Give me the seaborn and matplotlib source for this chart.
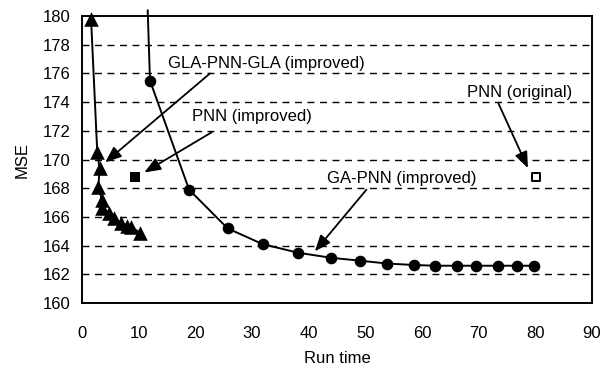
import matplotlib
matplotlib.use("Agg")
import matplotlib.pyplot as plt
import seaborn as sns
import pandas as pd

# GA-PNN (improved): first point is the line entering from above the plot
ga_x = [11.6, 12.0, 18.9, 25.7, 31.9, 38.2, 44.0, 49.1, 53.9, 58.6, 62.3, 66.1, 69.6, 73.5, 76.8, 79.8]
ga_y = [180.4, 175.5, 167.9, 165.2, 164.1, 163.5, 163.15, 162.95, 162.75, 162.65, 162.6, 162.6, 162.6, 162.6, 162.6, 162.6]

# GLA-PNN-GLA (improved)
gla_x = [1.6, 2.7, 3.1, 2.9, 3.5, 3.6, 4.8, 5.7, 6.9, 7.9, 8.7, 10.2]
gla_y = [179.8, 170.5, 169.4, 168.1, 167.2, 166.6, 166.3, 165.9, 165.6, 165.4, 165.3, 164.9]

# PNN points
pnn_imp_x = [9.4]
pnn_imp_y = [168.8]
pnn_orig_x = [80.1]
pnn_orig_y = [168.8]

yticks = [160, 162, 164, 166, 168, 170, 172, 174, 176, 178, 180]
xticks = [0, 10, 20, 30, 40, 50, 60, 70, 80, 90]

sns.set_theme(style="white")
plt.rcParams['font.family'] = ['Liberation Sans', 'DejaVu Sans']

fig = plt.figure(figsize=(6.05, 3.70), dpi=100)
ax = fig.add_axes([0.1355, 0.181, 0.8430, 0.7758])

ga = pd.DataFrame({"x": ga_x, "y": ga_y})
gla = pd.DataFrame({"x": gla_x, "y": gla_y})

# gridlines
for v in yticks[1:-1]:
    ax.axhline(v, color="black", lw=1.0, ls=(0, (5, 4)), zorder=0)

sns.lineplot(data=ga, x="x", y="y", sort=False, color="black", lw=1.4, ax=ax, estimator=None)
for ln in ax.lines[-1:]:
    ln.set_clip_on(False)
sns.scatterplot(data=ga.iloc[1:], x="x", y="y", color="black", marker="o", s=70,
                edgecolor="black", linewidth=0, ax=ax, zorder=5)

sns.lineplot(data=gla, x="x", y="y", sort=False, color="black", lw=1.4, ax=ax, estimator=None)
sns.scatterplot(data=gla, x="x", y="y", color="black", marker="^", s=110,
                edgecolor="black", linewidth=0, ax=ax, zorder=5, clip_on=False)

sns.scatterplot(x=pnn_imp_x, y=pnn_imp_y, color="black", marker="s", s=42,
                edgecolor="black", linewidth=0, ax=ax, zorder=5)
sns.scatterplot(x=pnn_orig_x, y=pnn_orig_y, color="white", marker="s", s=38,
                edgecolor="black", linewidth=1.4, ax=ax, zorder=5)

ax.set_xlim(0, 90)
ax.set_ylim(160, 180)
ax.set_xticks(xticks)
ax.set_yticks(yticks)
fs = 12
ax.tick_params(axis="x", labelsize=fs, colors="black", length=4, width=1,
               direction="out", pad=12.5)
ax.tick_params(axis="y", labelsize=fs, colors="black", direction="inout", length=7,
               width=1, pad=5)
for s in ax.spines.values():
    s.set_color("black")
    s.set_linewidth(1.4)
    s.set_visible(True)
ax.set_xlabel("Run time", fontsize=fs, color="black", labelpad=7)
ax.set_ylabel("MSE", fontsize=fs, color="black", labelpad=9)

arrow = dict(arrowstyle="-|>,head_length=0.7,head_width=0.28", color="black", lw=1.3,
             mutation_scale=14, shrinkA=0, shrinkB=0)
ax.annotate("", xy=(4.1, 169.8), xytext=(22.6, 176.0), arrowprops=arrow)
ax.text(15.2, 176.7, "GLA-PNN-GLA (improved)", fontsize=fs, ha="left", va="center", color="black")
ax.annotate("", xy=(11.0, 169.1), xytext=(22.9, 171.9), arrowprops=arrow)
ax.text(19.4, 173.0, "PNN (improved)", fontsize=fs, ha="left", va="center", color="black")
ax.annotate("", xy=(41.1, 163.6), xytext=(50.2, 167.9), arrowprops=arrow)
ax.text(43.2, 168.7, "GA-PNN (improved)", fontsize=fs, ha="left", va="center", color="black")
ax.annotate("", xy=(78.7, 169.4), xytext=(73.5, 173.9), arrowprops=arrow)
ax.text(67.9, 174.7, "PNN (original)", fontsize=fs, ha="left", va="center", color="black")

fig.savefig("out.png", dpi=100)
